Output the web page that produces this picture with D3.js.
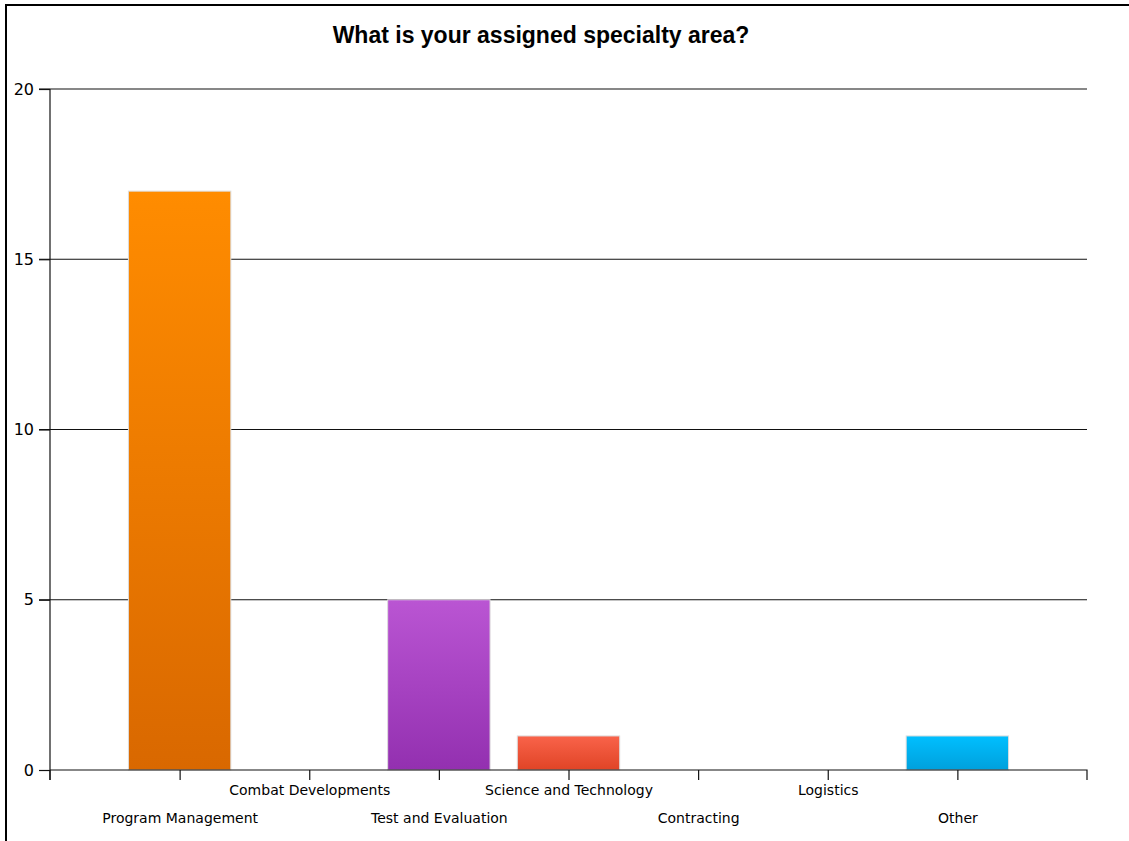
<!DOCTYPE html>
<html><head><meta charset="utf-8">
<script src="https://cdn.jsdelivr.net/npm/d3@7"></script>
<style>body{margin:0;background:#fff;}svg{display:block;}</style>
</head><body>
<script>
const categories = ["Program Management","Combat Developments","Test and Evaluation","Science and Technology","Contracting","Logistics","Other"];
const values = [17, 0, 5, 1, 0, 0, 1];
const topColors = ["#ff8c00","#8a2be2","#ba55d3","#f9634a","#888","#888","#00bfff"];
const bottomColors = ["#d96800","#6a1bb2","#9330b0","#e04426","#666","#666","#00a0dc"];
const yTicks = [0, 5, 10, 15, 20];
const title = "What is your assigned specialty area?";

const W = 1129, H = 841;
const svg = d3.select("body").append("svg").attr("width", W).attr("height", H);
// frame
svg.append("path").attr("d", `M6,${H+2}V5H${W+2}`).attr("fill","none").attr("stroke","#000").attr("stroke-width",2);

const x0 = 50, x1 = 1087, y0 = 770, y1 = 89;
const x = d3.scalePoint().domain(categories).range([x0, x1]).padding(1);
const y = d3.scaleLinear().domain([0, 20]).range([y0, y1]);
const bw = x.step() * 0.79;

const defs = svg.append("defs");
categories.forEach((c, i) => {
  const g = defs.append("linearGradient").attr("id", "g" + i).attr("x1",0).attr("y1",0).attr("x2",0).attr("y2",1);
  g.append("stop").attr("offset","0%").attr("stop-color", topColors[i]);
  g.append("stop").attr("offset","100%").attr("stop-color", bottomColors[i]);
});

svg.append("text").attr("x", 541).attr("y", 43).attr("text-anchor","middle")
  .attr("font-family","Liberation Sans, Arial, sans-serif").attr("font-weight","bold").attr("font-size",23)
  .text(title);

// gridlines
svg.append("g").selectAll("line").data(yTicks.filter(d => d > 0)).join("line")
  .attr("x1", x0 - 11).attr("x2", x1).attr("y1", d => y(d)).attr("y2", d => y(d))
  .attr("stroke","#111").attr("stroke-width",1.2);

// bars
svg.append("g").selectAll("rect").data(categories.filter((c,i)=>values[i]>0)).join("rect")
  .attr("x", c => x(c) - bw/2).attr("width", bw)
  .attr("y", c => y(values[categories.indexOf(c)]))
  .attr("height", c => y0 - y(values[categories.indexOf(c)]))
  .attr("fill", c => `url(#g${categories.indexOf(c)})`)
  .attr("stroke","#ddd").attr("stroke-width",1);

// y axis
const yAxis = d3.axisLeft(y).tickValues(yTicks).tickSize(11).tickPadding(5);
const gy = svg.append("g").attr("transform", `translate(${x0},0)`).call(yAxis);
gy.select(".domain").attr("d", `M0,${y1}V${y0+10}`).attr("stroke","#111").attr("stroke-width",1.2);
gy.selectAll("text").attr("font-family","DejaVu Sans, sans-serif").attr("font-size",16).attr("fill","#000");
gy.selectAll("line").attr("stroke","#111").attr("stroke-width",1.2);

// x axis
const xAxis = d3.axisBottom(x).tickSize(10).tickPadding(4);
const gx = svg.append("g").attr("transform", `translate(0,${y0})`).call(xAxis);
gx.select(".domain").attr("d", `M${x0},0H${x1}V10`).attr("stroke","#111").attr("stroke-width",1.2);
gx.selectAll("line").attr("stroke","#111").attr("stroke-width",1.2);
gx.append("line").attr("x1", x0).attr("x2", x0).attr("y1", 0).attr("y2", 10).attr("stroke","#111").attr("stroke-width",1.2);
gx.selectAll(".tick text")
  .attr("font-family","DejaVu Sans, sans-serif").attr("font-size",14).attr("fill","#000")
  .attr("dy", null)
  .attr("y", (d, i) => i % 2 === 0 ? 53 : 25);
</script>
</body></html>
